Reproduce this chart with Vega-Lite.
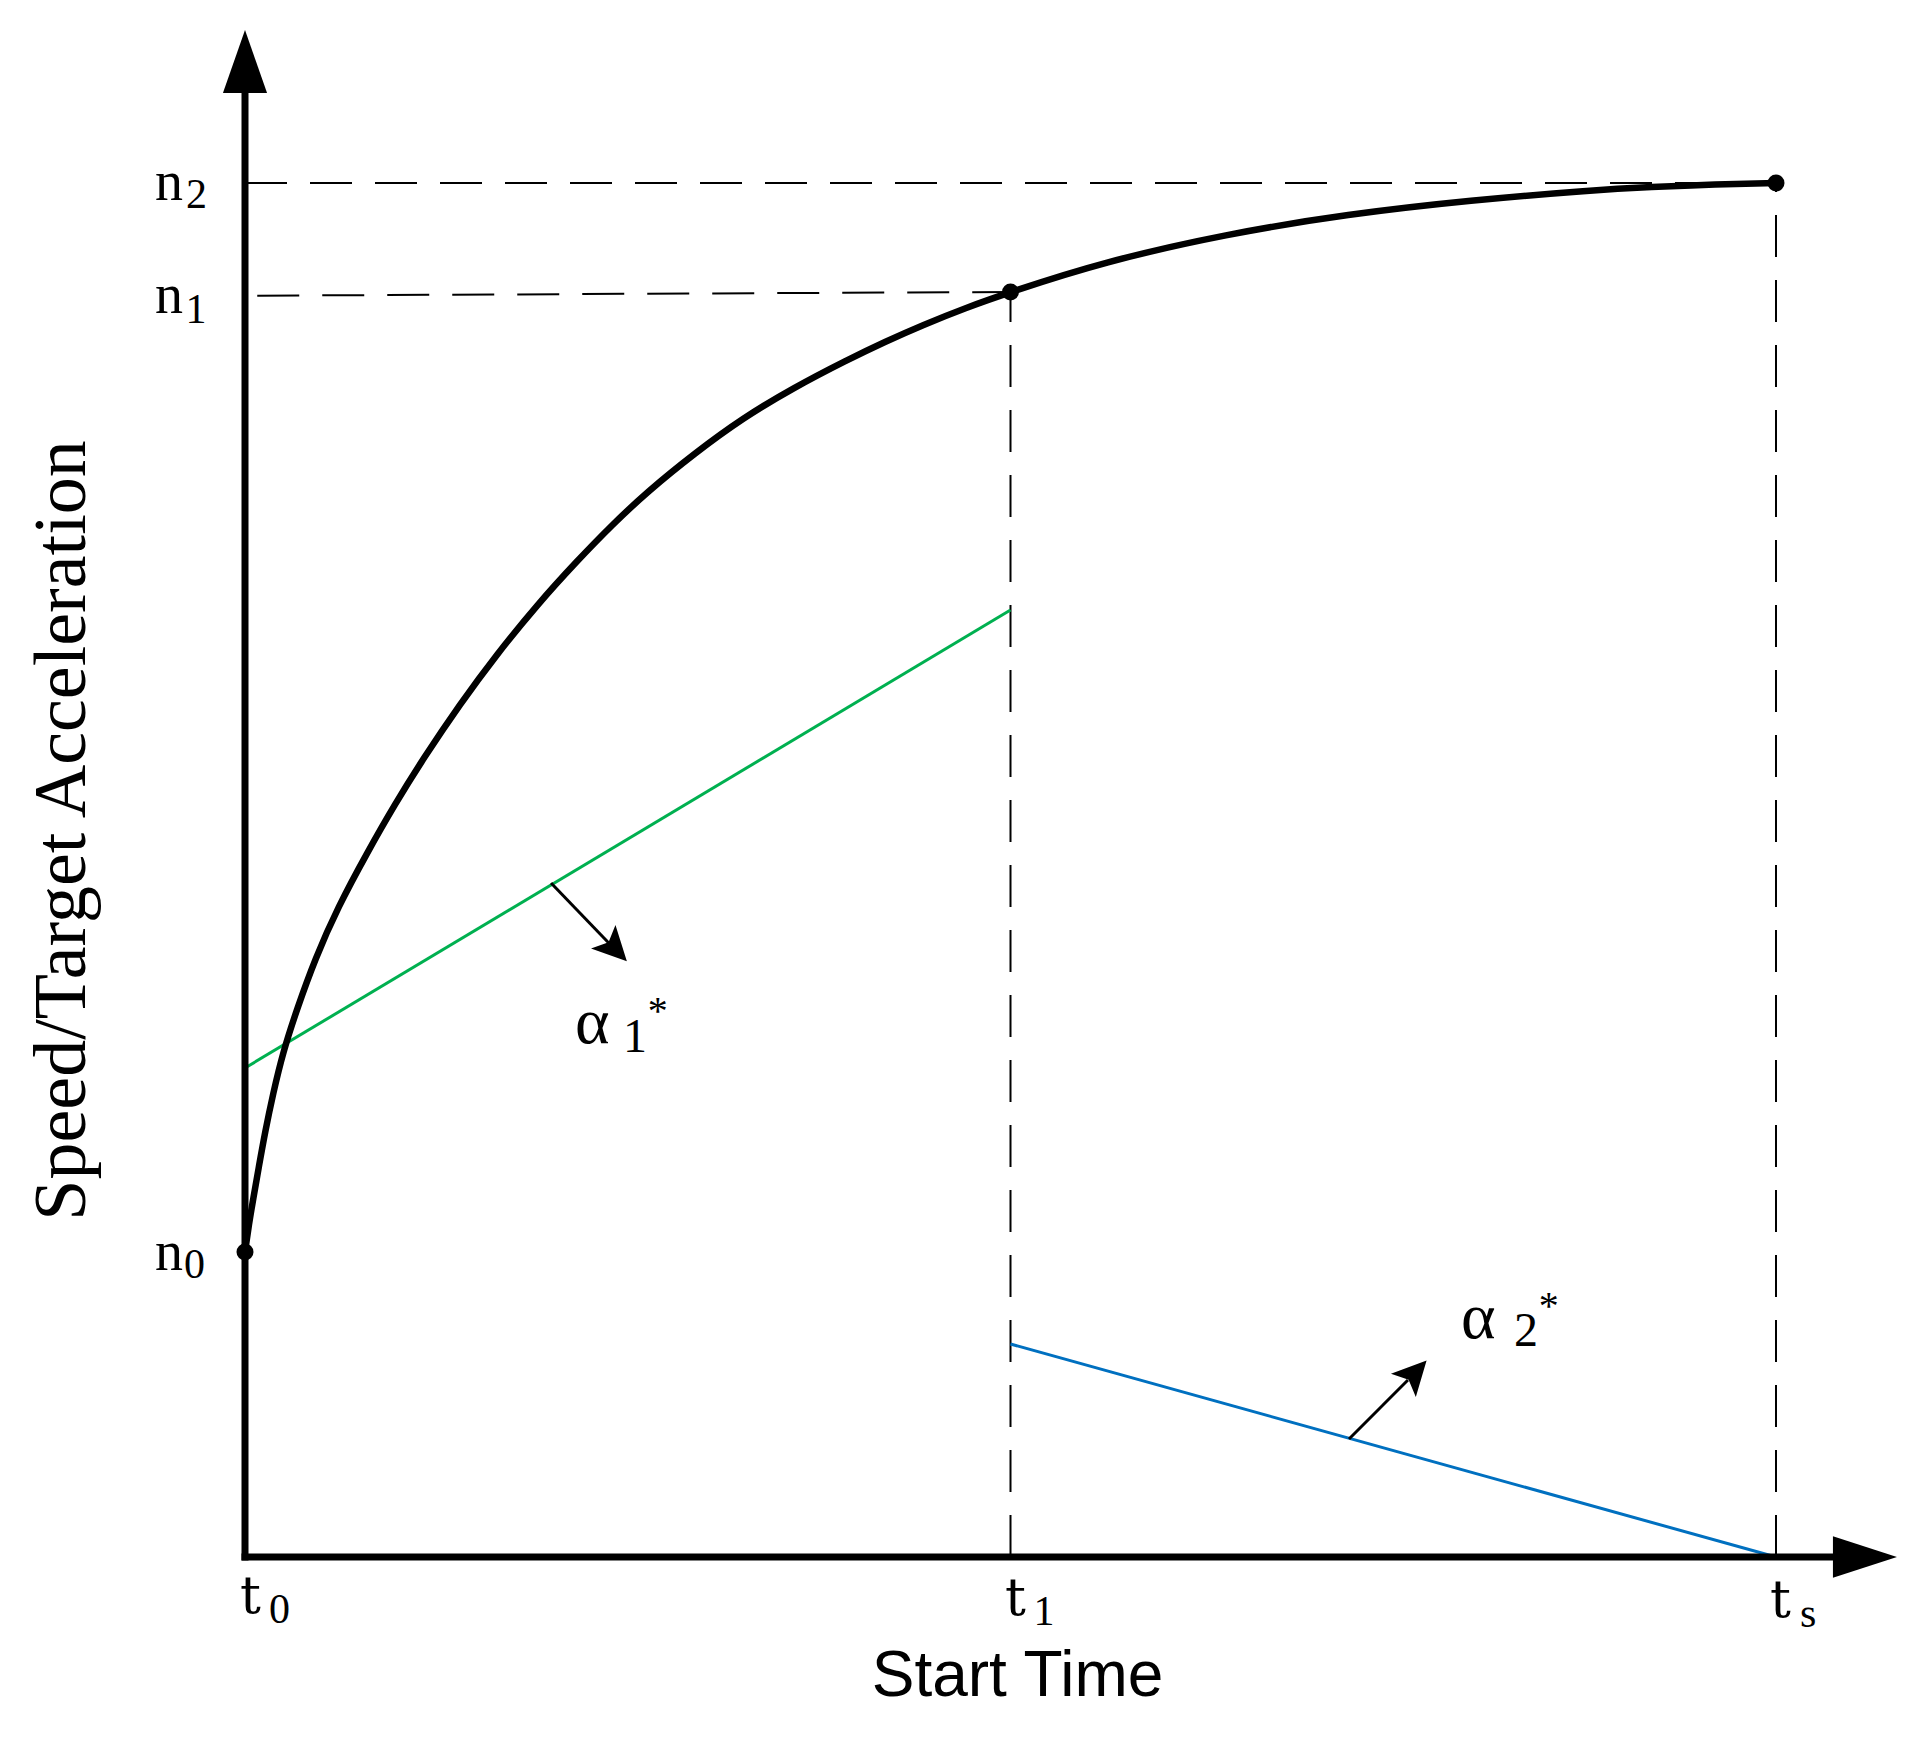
{
  "$schema": "https://vega.github.io/schema/vega-lite/v6.json",
  "width": 1531,
  "height": 1374,
  "autosize": {"type": "none"},
  "padding": {"left": 245, "top": 183, "right": 146, "bottom": 181},
  "background": "white",
  "config": {"view": {"stroke": null}},
  "datasets": {
    "curve": [
      {"x": 0, "y": 22.2},
      {"x": 0.0261, "y": 24.24},
      {"x": 0.0523, "y": 25.98},
      {"x": 0.0914, "y": 28.46},
      {"x": 0.1306, "y": 30.9},
      {"x": 0.1829, "y": 33.7},
      {"x": 0.2482, "y": 36.75},
      {"x": 0.3396, "y": 39.88},
      {"x": 0.4572, "y": 43.52},
      {"x": 0.6074, "y": 47.31},
      {"x": 0.7969, "y": 51.24},
      {"x": 0.9798, "y": 54.8},
      {"x": 1.1626, "y": 58.08},
      {"x": 1.4043, "y": 62.08},
      {"x": 1.646, "y": 65.72},
      {"x": 1.9073, "y": 69.29},
      {"x": 2.1685, "y": 72.49},
      {"x": 2.3971, "y": 75.11},
      {"x": 2.6257, "y": 77.51},
      {"x": 2.9393, "y": 80.35},
      {"x": 3.2528, "y": 82.9},
      {"x": 3.5794, "y": 85.08},
      {"x": 3.9321, "y": 87.12},
      {"x": 4.1803, "y": 88.45},
      {"x": 4.4285, "y": 89.67},
      {"x": 4.7028, "y": 90.9},
      {"x": 5.0, "y": 92.07},
      {"x": 5.6042, "y": 94.25},
      {"x": 6.4076, "y": 96.29},
      {"x": 7.2045, "y": 97.74},
      {"x": 8.0078, "y": 98.75},
      {"x": 8.8112, "y": 99.49},
      {"x": 9.177, "y": 99.71},
      {"x": 9.6081, "y": 99.9},
      {"x": 10.0, "y": 100.0}
    ],
    "guides": [
      {"x": 0, "y": 100, "x2": 10, "y2": 100},
      {"x": 0.08, "y": 91.8, "x2": 5, "y2": 92.07},
      {"x": 5, "y": 0, "x2": 5, "y2": 92.07},
      {"x": 10, "y": 0, "x2": 10, "y2": 100}
    ],
    "axes": [
      {"x": 0, "y": 0, "x2": 0, "y2": 107.5},
      {"x": 0, "y": 0, "x2": 10.45, "y2": 0}
    ],
    "accel": [
      {"series": "α1", "x": 0, "y": 35.59, "x2": 5, "y2": 68.92},
      {"series": "α2", "x": 5, "y": 15.5, "x2": 10, "y2": 0}
    ],
    "shafts": [
      {"x": 1.999, "y": 49.05, "x2": 2.384, "y2": 44.6},
      {"x": 7.211, "y": 8.59, "x2": 7.596, "y2": 12.88}
    ],
    "heads": [
      {"arrow": "a1", "x": 2.417, "y": 44.25},
      {"arrow": "a2", "x": 7.642, "y": 13.39}
    ],
    "axisHeads": [
      {"axis": "x", "x": 10.581, "y": 0},
      {"axis": "y", "x": 0, "y": 108.84}
    ],
    "dots": [
      {"x": 0, "y": 22.2},
      {"x": 5, "y": 92.07},
      {"x": 10, "y": 100}
    ],
    "ticklabels": [
      {"role": "n", "text": "n", "x": -0.588, "y": 98.76},
      {"role": "n", "text": "n", "x": -0.588, "y": 90.54},
      {"role": "n", "text": "n", "x": -0.588, "y": 20.89},
      {"role": "t", "text": "t", "x": -0.033, "y": -4.08},
      {"role": "t", "text": "t", "x": 4.964, "y": -4.22},
      {"role": "t", "text": "t", "x": 9.961, "y": -4.37},
      {"role": "sub", "text": "2", "x": -0.385, "y": 98.18},
      {"role": "sub", "text": "1", "x": -0.389, "y": 89.81},
      {"role": "sub", "text": "0", "x": -0.398, "y": 20.31},
      {"role": "sub", "text": "0", "x": 0.157, "y": -4.8},
      {"role": "sub", "text": "1", "x": 5.15, "y": -4.95},
      {"role": "sub", "text": "s", "x": 10.157, "y": -5.09}
    ],
    "greek": [
      {"role": "alpha", "text": "α", "x": 2.156, "y": 37.41},
      {"role": "alpha", "text": "α", "x": 7.942, "y": 15.94},
      {"role": "index", "text": "1", "x": 2.469, "y": 36.75},
      {"role": "index", "text": "2", "x": 8.289, "y": 15.36},
      {"role": "star", "text": "*", "x": 2.63, "y": 38.79},
      {"role": "star", "text": "*", "x": 8.45, "y": 17.32}
    ]
  },
  "encoding": {
    "x": {
      "field": "x",
      "type": "quantitative",
      "scale": {"domain": [0, 10], "nice": false, "zero": false},
      "axis": {
        "title": "Start Time",
        "domain": false,
        "ticks": false,
        "labels": false,
        "grid": false,
        "titleFont": "Liberation Sans",
        "titleFontSize": 64,
        "titleFontWeight": "normal",
        "titleColor": "#000000",
        "titleX": 772,
        "titleY": 138,
        "titleAlign": "center",
        "titleBaseline": "alphabetic"
      }
    },
    "y": {
      "field": "y",
      "type": "quantitative",
      "scale": {"domain": [0, 100], "nice": false, "zero": false},
      "axis": {
        "title": "Speed/Target Acceleration",
        "domain": false,
        "ticks": false,
        "labels": false,
        "grid": false,
        "titleFont": "Liberation Serif",
        "titleFontSize": 74,
        "titleFontWeight": "normal",
        "titleColor": "#000000",
        "titleAngle": 270,
        "titleX": -161,
        "titleY": 647,
        "titleAlign": "center",
        "titleBaseline": "alphabetic"
      }
    }
  },
  "layer": [
    {
      "data": {"name": "guides"},
      "mark": {"type": "rule", "color": "#000000", "strokeWidth": 2, "strokeDash": [42, 23]},
      "encoding": {"x2": {"field": "x2"}, "y2": {"field": "y2"}}
    },
    {
      "data": {"name": "accel"},
      "mark": {"type": "rule", "strokeWidth": 3},
      "encoding": {
        "x2": {"field": "x2"},
        "y2": {"field": "y2"},
        "color": {"field": "series", "type": "nominal", "scale": {"domain": ["α1", "α2"], "range": ["#00b050", "#0070c0"]}, "legend": null}
      }
    },
    {
      "data": {"name": "curve"},
      "mark": {"type": "line", "color": "#000000", "strokeWidth": 6.5, "interpolate": "basis"},
      "encoding": {}
    },
    {
      "data": {"name": "axes"},
      "mark": {"type": "rule", "color": "#000000", "strokeWidth": 7, "strokeCap": "square"},
      "encoding": {"x2": {"field": "x2"}, "y2": {"field": "y2"}}
    },
    {
      "data": {"name": "axisHeads"},
      "transform": [{"filter": "datum.axis === 'x'"}],
      "mark": {"type": "point", "shape": "M 1 0 L -1 0.65 L -1 -0.65 Z", "size": 4096, "filled": true, "color": "#000000", "opacity": 1}
    },
    {
      "data": {"name": "axisHeads"},
      "transform": [{"filter": "datum.axis === 'y'"}],
      "mark": {"type": "point", "shape": "M 0 -1 L 0.7 1 L -0.7 1 Z", "size": 3969, "filled": true, "color": "#000000", "opacity": 1}
    },
    {
      "data": {"name": "shafts"},
      "mark": {"type": "rule", "color": "#000000", "strokeWidth": 3},
      "encoding": {"x2": {"field": "x2"}, "y2": {"field": "y2"}}
    },
    {
      "data": {"name": "heads"},
      "transform": [{"filter": "datum.arrow === 'a1'"}],
      "mark": {"type": "point", "shape": "M 1 0 L -1 1 L -0.55 0 L -1 -1 Z", "size": 1156, "filled": true, "color": "#000000", "opacity": 1, "angle": 46}
    },
    {
      "data": {"name": "heads"},
      "transform": [{"filter": "datum.arrow === 'a2'"}],
      "mark": {"type": "point", "shape": "M 1 0 L -1 1 L -0.55 0 L -1 -1 Z", "size": 1156, "filled": true, "color": "#000000", "opacity": 1, "angle": 313}
    },
    {
      "data": {"name": "dots"},
      "mark": {"type": "point", "shape": "circle", "size": 289, "filled": true, "color": "#000000", "opacity": 1}
    },
    {
      "data": {"name": "ticklabels"},
      "transform": [{"filter": "datum.role === 'n'"}],
      "mark": {"type": "text", "font": "Liberation Serif", "fontSize": 56, "align": "left", "baseline": "alphabetic", "color": "#000000"},
      "encoding": {"text": {"field": "text"}}
    },
    {
      "data": {"name": "ticklabels"},
      "transform": [{"filter": "datum.role === 't'"}],
      "mark": {"type": "text", "font": "DejaVu Serif", "fontSize": 52, "align": "left", "baseline": "alphabetic", "color": "#000000"},
      "encoding": {"text": {"field": "text"}}
    },
    {
      "data": {"name": "ticklabels"},
      "transform": [{"filter": "datum.role === 'sub'"}],
      "mark": {"type": "text", "font": "Liberation Serif", "fontSize": 42, "align": "left", "baseline": "alphabetic", "color": "#000000"},
      "encoding": {"text": {"field": "text"}}
    },
    {
      "data": {"name": "greek"},
      "transform": [{"filter": "datum.role === 'alpha'"}],
      "mark": {"type": "text", "font": "Liberation Serif", "fontSize": 66, "align": "left", "baseline": "alphabetic", "color": "#000000"},
      "encoding": {"text": {"field": "text"}}
    },
    {
      "data": {"name": "greek"},
      "transform": [{"filter": "datum.role === 'index'"}],
      "mark": {"type": "text", "font": "Liberation Serif", "fontSize": 48, "align": "left", "baseline": "alphabetic", "color": "#000000"},
      "encoding": {"text": {"field": "text"}}
    },
    {
      "data": {"name": "greek"},
      "transform": [{"filter": "datum.role === 'star'"}],
      "mark": {"type": "text", "font": "Liberation Serif", "fontSize": 40, "align": "left", "baseline": "alphabetic", "color": "#000000"},
      "encoding": {"text": {"field": "text"}}
    }
  ]
}
